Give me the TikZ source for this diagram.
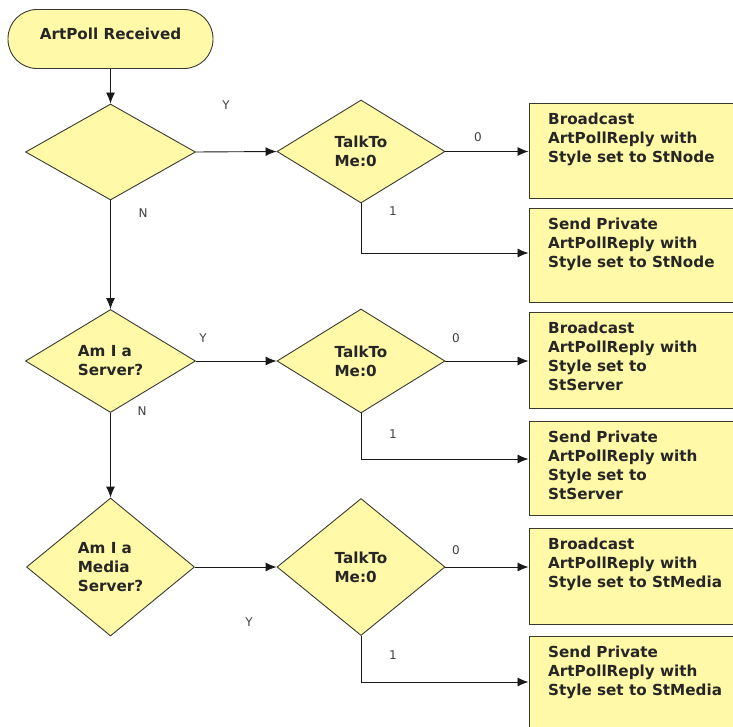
\documentclass[tikz,border=0pt]{standalone}
\usepackage{fontspec}
\setmainfont{DejaVu Sans}
\usetikzlibrary{shapes.geometric,arrows.meta}
\definecolor{flowfill}{HTML}{FFF9A8}
\definecolor{flowline}{HTML}{3A3A32}
\definecolor{labelgray}{HTML}{404040}
\tikzset{
  boxtext/.style={font=\bfseries\fontsize{15.2}{19}\selectfont, text=black!85},
  terminal/.style={draw=flowline, fill=flowfill, line width=0.9pt, rounded corners=29pt,
    minimum width=205pt, minimum height=59pt, inner sep=0pt, boxtext},
  decision/.style={diamond, draw=flowline, fill=flowfill, line width=0.9pt, inner sep=0pt,
    minimum width=168pt, align=left, boxtext},
  action/.style={draw=flowline, fill=flowfill, line width=1pt, minimum width=260pt,
    anchor=north west, inner sep=0pt},
  actiontext/.style={anchor=north west, align=left, inner sep=0pt, boxtext},
  flow/.style={draw=black!90, line width=0.9pt, -{Latex[length=11pt,width=9pt]}},
  branch/.style={font=\fontsize{12}{14}\selectfont, text=labelgray, inner sep=0pt},
}
\begin{document}
\begin{tikzpicture}[x=1pt,y=-1pt]
\useasboundingbox (0,0) rectangle (733,727);
\clip (0,0) rectangle (733,727);

% start terminal
\node[terminal, text depth=11pt] (start) at (110.5,39) {ArtPoll Received};

% left column of decisions
\node[decision, minimum height=96pt, minimum width=170pt] (d1) at (110.5,152) {};
\node[decision, minimum height=103pt, minimum width=170pt] (d2) at (110.5,361) {Am I a\\Server?};
\node[decision, minimum height=138pt] (d3) at (110.5,567) {Am I a\\Media\\Server?};

% TalkToMe decisions
\node[decision, minimum height=103pt] (t1) at (361,151.5) {TalkTo\\Me:0};
\node[decision, minimum height=104pt] (t2) at (361,361) {TalkTo\\Me:0};
\node[decision, minimum height=137pt] (t3) at (361,567) {TalkTo\\Me:0};

% action boxes
\node[action, minimum height=95pt] (b1) at (528.5,103) {};
\node[action, minimum height=94pt] (b2) at (528.5,208) {};
\node[action, minimum height=96pt] (b3) at (528.5,312) {};
\node[action, minimum height=94pt] (b4) at (528.5,421) {};
\node[action, minimum height=96pt] (b5) at (528.5,528) {};
\node[action, minimum height=120pt] (b6) at (528.5,636) {};

\node[actiontext] (b1t) at ([shift={(19.5,10)}]b1.north west) {Broadcast\\ArtPollReply with\\Style set to StNode};
\node[actiontext] (b2t) at ([shift={(19.5,10)}]b2.north west) {Send Private\\ArtPollReply with\\Style set to StNode};
\node[actiontext] (b3t) at ([shift={(19.5,10)}]b3.north west) {Broadcast\\ArtPollReply with\\Style set to\\StServer};
\node[actiontext] (b4t) at ([shift={(19.5,10)}]b4.north west) {Send Private\\ArtPollReply with\\Style set to\\StServer};
\node[actiontext] (b5t) at ([shift={(19.5,10)}]b5.north west) {Broadcast\\ArtPollReply with\\Style set to StMedia};
\node[actiontext] (b6t) at ([shift={(19.5,10)}]b6.north west) {Send Private\\ArtPollReply with\\Style set to StMedia};

% connectors
\draw[flow] (start.south) -- (d1.north);
\draw[flow] (d1.south) -- (d2.north);
\draw[flow] (d2.south) -- (d3.north);
\draw[flow] (d1.east) -- (t1.west);
\draw[flow] (d2.east) -- (t2.west);
\draw[flow] (d3.east) -- (t3.west);
\draw[flow] (t1.east) -- (t1.east -| b1.west);
\draw[flow] (t2.east) -- (t2.east -| b3.west);
\draw[flow] (t3.east) -- (t3.east -| b5.west);
\draw[flow] (t1.south) |- ([shift={(0,45)}]b2.north west);
\draw[flow] (t2.south) |- ([shift={(0,38)}]b4.north west);
\draw[flow] (t3.south) |- ([shift={(0,46)}]b6.north west);

% branch labels
\node[branch] (y1) at (226,105) {Y};
\node[branch] (n1) at (143,213) {N};
\node[branch] (y2) at (203,338) {Y};
\node[branch] (n2) at (142,411) {N};
\node[branch] (y3) at (249,622) {Y};
\node[branch] (z1) at (478,137) {0};
\node[branch] (o1) at (393,211) {1};
\node[branch] (z2) at (456,338) {0};
\node[branch] (o2) at (393,434) {1};
\node[branch] (z3) at (456,550) {0};
\node[branch] (o3) at (393,655) {1};
\end{tikzpicture}
\end{document}
